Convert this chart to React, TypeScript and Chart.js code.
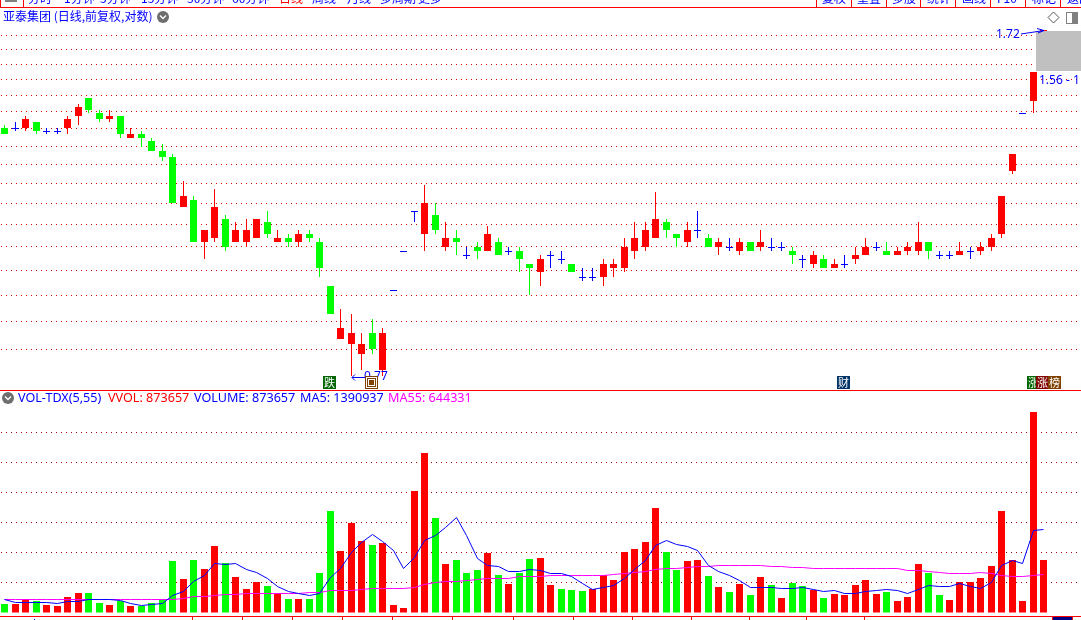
import React, { useEffect, useRef } from "react";
import { Chart, registerables } from "chart.js";

Chart.register(...registerables);

const SLOT_COUNT = 103;

const opens = [
  1.37,1.37,1.37,1.39,1.36,1.36,1.37,1.41,1.47,1.42,
  1.40,1.41,1.34,1.35,1.33,1.30,1.28,1.14,1.16,1.05,
  1.06,1.11,1.05,1.05,1.06,1.10,1.05,1.06,1.05,1.07,
  1.05,0.95,0.84,0.83,0.81,0.85,0.78,0.94,1.03,1.13,
  1.07,1.12,1.04,1.06,1.02,1.04,1.03,1.05,1.03,1.03,
  1.00,0.98,1.02,1.01,1.00,0.97,0.97,0.97,0.99,0.99,
  1.03,1.04,1.06,1.10,1.07,1.05,1.08,1.06,1.04,1.04,
  1.03,1.05,1.04,1.04,1.04,1.03,1.01,1.00,1.01,0.99,
  1.00,1.01,1.02,1.04,1.03,1.02,1.03,1.03,1.05,1.02,
  1.02,1.02,1.03,1.03,1.04,1.07,1.24,1.42,1.46,1.60,
];
const highs = [
  1.38,1.39,1.41,1.39,1.37,1.37,1.41,1.45,1.47,1.43,
  1.43,1.41,1.37,1.36,1.34,1.32,1.29,1.21,1.17,1.08,
  1.19,1.12,1.10,1.11,1.11,1.13,1.08,1.07,1.08,1.08,
  1.06,0.95,0.90,0.89,0.85,0.88,0.86,0.94,1.03,1.13,
  1.20,1.15,1.10,1.08,1.04,1.05,1.09,1.06,1.04,1.04,
  1.00,1.02,1.03,1.03,1.00,0.99,0.99,1.01,1.01,1.06,
  1.10,1.10,1.18,1.11,1.07,1.10,1.13,1.07,1.06,1.06,
  1.06,1.05,1.08,1.06,1.05,1.04,1.02,1.03,1.02,1.01,
  1.02,1.04,1.06,1.05,1.05,1.04,1.05,1.10,1.05,1.03,
  1.03,1.05,1.04,1.05,1.07,1.17,1.29,1.42,1.56,1.72,
];
const lows = [
  1.35,1.36,1.36,1.35,1.35,1.35,1.35,1.38,1.42,1.39,
  1.39,1.34,1.34,1.31,1.30,1.27,1.15,1.14,1.05,1.01,
  1.05,1.03,1.05,1.04,1.06,1.06,1.05,1.04,1.04,1.05,
  0.97,0.89,0.84,0.77,0.78,0.81,0.77,0.94,1.03,1.10,
  1.03,1.07,1.03,1.02,1.01,1.01,1.03,1.02,1.02,0.98,
  0.93,0.95,0.99,1.00,0.98,0.96,0.96,0.95,0.97,0.98,
  1.01,1.03,1.06,1.06,1.04,1.04,1.06,1.04,1.02,1.03,
  1.02,1.03,1.03,1.03,1.03,1.00,0.99,0.99,0.99,0.99,
  0.99,1.00,1.02,1.03,1.02,1.02,1.02,1.02,1.01,1.01,
  1.01,1.02,1.01,1.02,1.03,1.06,1.23,1.42,1.42,1.60,
];
const closes = [
  1.35,1.37,1.40,1.36,1.36,1.36,1.40,1.44,1.43,1.40,
  1.41,1.35,1.35,1.34,1.30,1.28,1.15,1.17,1.05,1.08,
  1.14,1.04,1.08,1.08,1.11,1.07,1.06,1.05,1.07,1.06,
  0.99,0.89,0.86,0.85,0.83,0.82,0.85,0.94,1.03,1.13,
  1.15,1.08,1.06,1.05,1.02,1.03,1.07,1.02,1.03,1.01,
  0.99,1.01,1.02,1.01,0.98,0.97,0.97,1.00,1.00,1.04,
  1.06,1.08,1.11,1.08,1.06,1.08,1.08,1.04,1.05,1.04,
  1.05,1.03,1.05,1.04,1.04,1.02,1.01,1.02,0.99,1.00,
  1.00,1.02,1.04,1.04,1.02,1.03,1.04,1.05,1.03,1.02,
  1.02,1.03,1.03,1.04,1.06,1.17,1.29,1.42,1.56,1.72,
];

// volume, in thousands
const volumes = [
  144,144,228,194,128,111,261,328,328,161,
  128,194,111,111,161,228,861,561,878,728,
  1111,828,594,394,511,444,328,228,228,228,
  661,1695,1028,1495,1195,1128,1161,128,78,2028,
  2661,1578,811,878,661,711,994,628,478,661,
  894,911,461,394,378,361,394,628,544,1011,
  1061,1178,1745,1011,711,861,878,611,428,344,
  478,294,594,461,244,494,444,378,244,311,
  294,461,544,311,344,194,261,811,661,294,
  211,511,511,578,778,1695,878,194,3345,873.657,
];
const ma5 = [
  228,178,178,178,167,156,189,194,228,228,
  228,211,161,133,139,161,294,361,528,628,
  828,811,828,728,678,578,444,361,328,289,
  328,594,745,1011,1183,1300,1195,1045,745,928,
  1211,1295,1428,1589,1295,911,795,778,695,689,
  728,706,661,650,611,494,394,428,461,578,
  728,878,1117,1200,1139,1111,1045,795,695,617,
  544,428,428,422,406,406,428,394,350,372,
  322,322,350,372,389,367,322,394,456,439,
  439,494,439,411,511,795,878,822,1372,1390.937,
];
const ma55 = [
  233,233,233,233,233,233,233,233,233,233,
  233,233,233,233,233,233,233,239,267,272,
  289,300,306,322,322,322,322,328,333,339,
  339,367,372,372,394,406,406,411,411,433,
  483,500,517,522,539,550,567,578,578,600,
  606,606,622,622,622,622,622,633,639,656,
  678,689,717,739,739,756,772,772,789,789,
  789,789,789,772,772,756,756,739,739,739,
  739,739,739,739,739,739,711,706,689,672,
  656,656,656,672,650,622,606,600,628,644.331,
];
// flat candles whose volume bar is drawn green
const flatDownBars = [44, 53, 55, 69, 73, 76, 89];

const priceTicks = [0.82,0.875,0.93,0.985,1.042,1.095,1.15,1.205,1.26,1.315,1.37,1.425,1.48,1.535,1.59,1.645,1.7];
const volumeTicks = [500,1000,1500,2000,2500,3000];
const dateTickSlots = [17.89,22.66,27.43,32.2,36.96,42.68,48.5,54.2,59.9,65.5,71,76.4,81.95];

const periodTabs = ["分时","1分钟","5分钟","15分钟","30分钟","60分钟","日线","周线","月线","多周期","更多"];
const toolTabs = ["复权","重叠","多股","统计","画线","F10","标记","返回"];
const titleText = "亚泰集团 (日线,前复权,对数)";

const RED = "#ff0000";
const GREEN = "#00ff00";
const BLUE = "#0000ff";
const MAGENTA = "#ff00ff";
const UI_FONT = '12px "Noto Sans", "Noto Sans CJK SC", sans-serif';
const VOL_FONT = '12.6px "Noto Sans", "Noto Sans CJK SC", sans-serif';
const CJK_FONT = '12px "Noto Sans CJK SC", "Noto Sans", sans-serif';

const candleColor = (i: number) =>
  closes[i] > opens[i] ? RED : closes[i] < opens[i] ? GREEN : BLUE;
const volumeColor = (i: number) =>
  closes[i] < opens[i] || flatDownBars.includes(i) ? GREEN : RED;

const snapX = (x: number) => Math.round(x + 0.19) + 0.5;

const snapMarks = {
  id: "snapMarks",
  afterDatasetsUpdate(chart: any) {
    chart.data.datasets.forEach((_: any, d: number) => {
      const meta = chart.getDatasetMeta(d);
      if (meta.type === "line") {
        meta.data.forEach((el: any) => {
          el.x = snapX(el.x);
          el.y = Math.floor(el.y) + 0.5;
        });
        return;
      }
      const snapY = meta.yScale.id === "price" ? Math.ceil : Math.round;
      meta.data.forEach((el: any) => {
        const top = snapY(Math.min(el.y, el.base));
        let bottom = snapY(Math.max(el.y, el.base));
        if (bottom - top < 1) bottom = top + 1;
        el.x = snapX(el.x);
        el.y = top;
        el.base = bottom;
        el.height = bottom - top;
      });
    });
  },
};

function hLine(ctx: CanvasRenderingContext2D, x0: number, x1: number, y: number, color: string) {
  ctx.fillStyle = color;
  ctx.fillRect(x0, y, x1 - x0, 1);
}
function vLine(ctx: CanvasRenderingContext2D, x: number, y0: number, y1: number, color: string) {
  ctx.fillStyle = color;
  ctx.fillRect(x, y0, 1, y1 - y0);
}
function label(ctx: CanvasRenderingContext2D, s: string, x: number, y: number, color: string, font = UI_FONT) {
  ctx.font = font;
  ctx.fillStyle = color;
  ctx.textAlign = "left";
  ctx.textBaseline = "middle";
  ctx.fillText(s, x, y);
}
function chevron(ctx: CanvasRenderingContext2D, cx: number, cy: number) {
  ctx.fillStyle = "#6e6e6e";
  ctx.beginPath();
  ctx.arc(cx, cy, 6, 0, Math.PI * 2);
  ctx.fill();
  ctx.strokeStyle = "#ffffff";
  ctx.lineWidth = 1.3;
  ctx.beginPath();
  ctx.moveTo(cx - 3, cy - 1.5);
  ctx.lineTo(cx, cy + 1.5);
  ctx.lineTo(cx + 3, cy - 1.5);
  ctx.stroke();
}
function badge(ctx: CanvasRenderingContext2D, s: string, x: number, color: string) {
  ctx.fillStyle = color;
  ctx.fillRect(x, 376, 13, 13);
  ctx.font = '11px "Noto Sans CJK SC", sans-serif';
  ctx.fillStyle = "#ffffff";
  ctx.textAlign = "center";
  ctx.textBaseline = "middle";
  ctx.fillText(s, x + 6.5, 382.5);
}

const paneDecor = {
  id: "paneDecor",
  afterDraw(chart: any) {
    const ctx: CanvasRenderingContext2D = chart.ctx;
    const xs = chart.scales.x;
    ctx.save();
    ctx.translate(1, 0);

    // clipped toolbar strip
    ctx.save();
    ctx.beginPath();
    ctx.rect(0, 0, 1081, 7);
    ctx.clip();
    const tabX = [28, 64, 100, 141, 187, 232, 279, 312, 347, 380, 418];
    periodTabs.forEach((t, i) =>
      label(ctx, t, tabX[i], -2, t === "日线" ? RED : BLUE, CJK_FONT));
    toolTabs.forEach((t, i) => label(ctx, t, 822 + i * 35, -2, BLUE, CJK_FONT));
    ctx.restore();
    ctx.fillStyle = "#808080";
    ctx.fillRect(5, 0, 12, 2);
    hLine(ctx, 0, 1081, 7, RED);
    vLine(ctx, 0, 0, 7, RED);
    vLine(ctx, 23, 0, 7, RED);
    [816, 851, 886, 920, 955, 990, 1025, 1060].forEach((x) => vLine(ctx, x, 0, 7, RED));

    // price pane header
    label(ctx, titleText, 3, 16.5, BLUE, CJK_FONT);
    chevron(ctx, 163, 17);
    ctx.strokeStyle = "#555555";
    ctx.lineWidth = 1;
    ctx.beginPath();
    ctx.moveTo(1053.5, 12);
    ctx.lineTo(1059, 17.5);
    ctx.lineTo(1053.5, 23);
    ctx.lineTo(1048, 17.5);
    ctx.closePath();
    ctx.stroke();
    ctx.strokeStyle = "#808080";
    ctx.strokeRect(1066.5, 12.5, 11, 11);
    ctx.fillStyle = "#808080";
    ctx.fillRect(1072, 13, 5, 10);

    // grey block and high / low callouts
    ctx.fillStyle = "#c0c0c0";
    ctx.fillRect(1036, 31, 45, 40);
    label(ctx, "1.72", 996, 35, BLUE);
    ctx.strokeStyle = BLUE;
    ctx.beginPath();
    ctx.moveTo(1021, 34);
    ctx.lineTo(1044, 30.5);
    ctx.moveTo(1037, 28.5);
    ctx.lineTo(1044, 30.5);
    ctx.lineTo(1038, 33);
    ctx.stroke();
    label(ctx, "1.56 - 1", 1039, 80.5, BLUE);
    label(ctx, "0.77", 364, 377, BLUE);
    ctx.strokeStyle = BLUE;
    ctx.beginPath();
    ctx.moveTo(352, 377.5);
    ctx.lineTo(365, 377.5);
    ctx.moveTo(355, 374.5);
    ctx.lineTo(352, 377.5);
    ctx.lineTo(355, 380.5);
    ctx.stroke();

    // event badges
    badge(ctx, "跌", 323, "#006400");
    ctx.fillStyle = "#804000";
    ctx.fillRect(365, 376, 13, 13);
    ctx.fillStyle = "#ffffff";
    ctx.fillRect(366, 377, 11, 11);
    ctx.fillStyle = "#804000";
    ctx.fillRect(367, 378, 9, 9);
    ctx.fillStyle = "#ffffff";
    ctx.fillRect(368, 379, 7, 7);
    ctx.fillStyle = "#804000";
    ctx.fillRect(369, 380, 5, 5);
    badge(ctx, "财", 837, "#003366");
    badge(ctx, "涨", 1027, "#006400");
    badge(ctx, "涨", 1036, "#800000");
    badge(ctx, "榜", 1048, "#804000");

    // volume pane header
    hLine(ctx, 0, 1081, 390, RED);
    chevron(ctx, 8, 398);
    label(ctx, "VOL-TDX(5,55)", 18, 398, BLUE, VOL_FONT);
    label(ctx, "VVOL: 873657", 108, 398, RED, VOL_FONT);
    label(ctx, "VOLUME: 873657", 194, 398, BLUE, VOL_FONT);
    label(ctx, "MA5: 1390937", 300, 398, BLUE, VOL_FONT);
    label(ctx, "MA55: 644331", 388, 398, MAGENTA, VOL_FONT);

    // date axis
    hLine(ctx, 0, 1081, 616, RED);
    dateTickSlots.forEach((s) => {
      vLine(ctx, Math.floor(xs.getPixelForValue(s)) - 1, 616, 620, RED);
    });
    ctx.fillStyle = "#000080";
    ctx.fillRect(1053, 617, 19, 3);
    vLine(ctx, 1052, 616, 620, RED);
    vLine(ctx, 1072, 616, 620, RED);
    ctx.fillStyle = BLUE;
    ctx.fillRect(34, 619, 1, 1);
    ctx.restore();
  },
};

export default function App() {
  const ref = useRef<HTMLCanvasElement>(null);
  useEffect(() => {
    const labels = Array.from({ length: SLOT_COUNT }, (_, i) => String(i));
    const idx = opens.map((_, i) => i);
    const chart = new Chart(ref.current as HTMLCanvasElement, {
      type: "bar",
      data: {
        labels,
        datasets: [
          {
            type: "bar",
            yAxisID: "price",
            order: 4,
            grouped: false,
            barThickness: 1,
            inflateAmount: 0,
            data: idx.map((i) => [lows[i], highs[i]]),
            backgroundColor: idx.map(candleColor),
          },
          {
            type: "bar",
            yAxisID: "price",
            order: 3,
            grouped: false,
            barThickness: 7,
            inflateAmount: 0,
            data: idx.map((i) => [opens[i], closes[i]]),
            backgroundColor: idx.map(candleColor),
          },
          {
            type: "bar",
            yAxisID: "vol",
            order: 3,
            grouped: false,
            barThickness: 7,
            inflateAmount: 0,
            data: volumes,
            backgroundColor: idx.map(volumeColor),
          },
          {
            type: "line",
            yAxisID: "vol",
            order: 2,
            data: ma55,
            borderColor: MAGENTA,
            borderWidth: 1,
            pointRadius: 0,
            tension: 0,
          },
          {
            type: "line",
            yAxisID: "vol",
            order: 1,
            data: ma5,
            borderColor: BLUE,
            borderWidth: 1,
            pointRadius: 0,
            tension: 0,
          },
        ],
      } as any,
      options: {
        responsive: false,
        animation: false,
        events: [],
        layout: { padding: { left: 0, right: 1, top: 23, bottom: 7.5 } },
        plugins: { legend: { display: false }, tooltip: { enabled: false } },
        scales: {
          x: { type: "category", display: false, offset: true },
          vol: {
            type: "linear",
            position: "left",
            stack: "panes",
            stackWeight: 222.5,
            min: 0,
            max: 3708,
            bounds: "data",
            alignToPixels: true,
            afterBuildTicks: (s: any) => {
              s.ticks = volumeTicks.map((value) => ({ value }));
            },
            ticks: { display: false },
            border: { display: false, dash: [1, 4], dashOffset: 3 },
            grid: { color: "#b00000", lineWidth: 1, drawTicks: false },
          },
          price: {
            type: "logarithmic",
            position: "left",
            stack: "panes",
            stackWeight: 367,
            min: 0.7454,
            max: 1.7483,
            bounds: "data",
            alignToPixels: true,
            afterBuildTicks: (s: any) => {
              s.ticks = priceTicks.map((value) => ({ value }));
            },
            ticks: { display: false },
            border: { display: false, dash: [1, 4], dashOffset: 3 },
            grid: { color: "#e00000", lineWidth: 1, drawTicks: false },
          },
        },
      } as any,
      plugins: [snapMarks, paneDecor],
    });
    return () => chart.destroy();
  }, []);
  return (
    <canvas
      ref={ref}
      width={1082}
      height={620}
      style={{ position: "fixed", left: -1, top: 0, display: "block" }}
    />
  );
}
